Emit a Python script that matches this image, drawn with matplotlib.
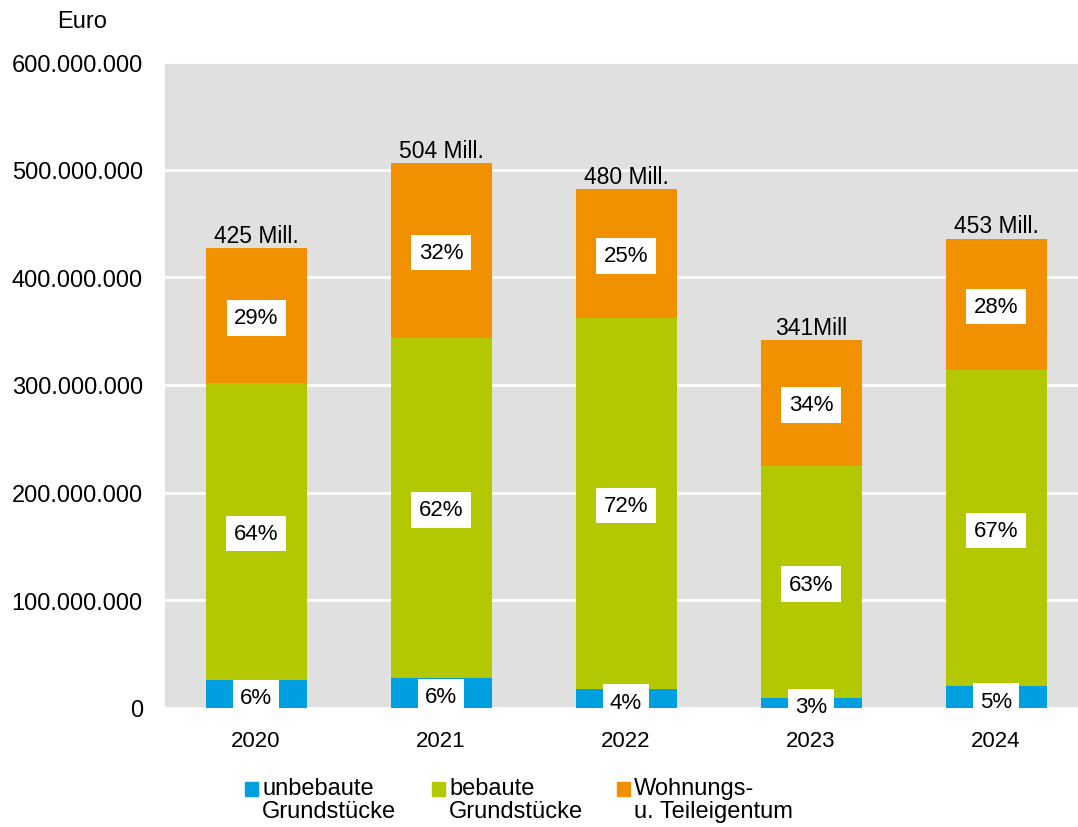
import matplotlib.pyplot as plt
from matplotlib.patches import Rectangle

plt.rcParams['font.family'] = ['Liberation Sans', 'DejaVu Sans']

years = ['2020', '2021', '2022', '2023', '2024']
unbebaut = [26, 28, 18, 9, 20]          # Mio. Euro
bebaut = [276, 316, 344, 216, 294]
wohnung = [125, 162, 120, 117, 122]
total_labels = ['425 Mill.', '504 Mill.', '480 Mill.', '341Mill', '453 Mill.']
pct_unbebaut = ['6%', '6%', '4%', '3%', '5%']
pct_bebaut = ['64%', '62%', '72%', '63%', '67%']
pct_wohnung = ['29%', '32%', '25%', '34%', '28%']
yticks = [0, 100, 200, 300, 400, 500, 600]
ytick_labels = ['0', '100.000.000', '200.000.000', '300.000.000',
                '400.000.000', '500.000.000', '600.000.000']

c_blue = '#009FE0'
c_green = '#B3C800'
c_orange = '#F29100'

fig = plt.figure(figsize=(10.78, 8.28), dpi=100)
ax = fig.add_axes([165 / 1078, 119 / 828, 913 / 1078, 646 / 828])
ax.set_facecolor('#E0E0E0')

x = list(range(len(years)))
w = 0.546
bottom2 = [a + b for a, b in zip(unbebaut, bebaut)]
tops = [a + b for a, b in zip(bottom2, wohnung)]

ax.bar(x, unbebaut, w, color=c_blue, zorder=2)
ax.bar(x, bebaut, w, bottom=unbebaut, color=c_green, zorder=2)
ax.bar(x, wohnung, w, bottom=bottom2, color=c_orange, zorder=2)

box = dict(boxstyle='square,pad=0.33', fc='white', ec='none')
for i in x:
    ax.text(i, unbebaut[i] / 2 - 3.5, pct_unbebaut[i], ha='center', va='center',
            fontsize=16, bbox=box, zorder=3)
    ax.text(i, unbebaut[i] + bebaut[i] / 2 - 2, pct_bebaut[i], ha='center', va='center',
            fontsize=16, bbox=box, zorder=3)
    ax.text(i, bottom2[i] + wohnung[i] / 2 - 2, pct_wohnung[i], ha='center', va='center',
            fontsize=16, bbox=box, zorder=3)
    ax.text(i, tops[i] + 1, total_labels[i], ha='center', va='bottom',
            fontsize=16.5, zorder=3)

ax.set_ylim(0, 600)
ax.set_xlim(-0.492, 4.443)
ax.set_yticks(yticks)
ax.set_yticklabels(ytick_labels, fontsize=17)
ax.set_xticks(x)
ax.set_xticklabels(years, fontsize=16)
ax.tick_params(axis='y', length=0, pad=16)
ax.tick_params(axis='x', length=0, pad=16)
ax.grid(axis='y', color='white', linewidth=2, zorder=1)
for s in ax.spines.values():
    s.set_visible(False)

fig.text(57 / 1078, 1 - 22 / 828, 'Euro', ha='left', va='center', fontsize=17)

# legend drawn by hand so the swatch sits next to the first text line
legend_items = [(245, c_blue, 'unbebaute\nGrundstücke'),
                (432, c_green, 'bebaute\nGrundstücke'),
                (617, c_orange, 'Wohnungs-\nu. Teileigentum')]
for px, col, lab in legend_items:
    fig.patches.append(Rectangle((px / 1078, 1 - 797 / 828), 13 / 1078, 14 / 828,
                                 transform=fig.transFigure, color=col))
    fig.text((px + 17) / 1078, 1 - 778 / 828, lab, ha='left', va='top',
             fontsize=17, linespacing=1.08)

fig.savefig('out.png', dpi=100)
